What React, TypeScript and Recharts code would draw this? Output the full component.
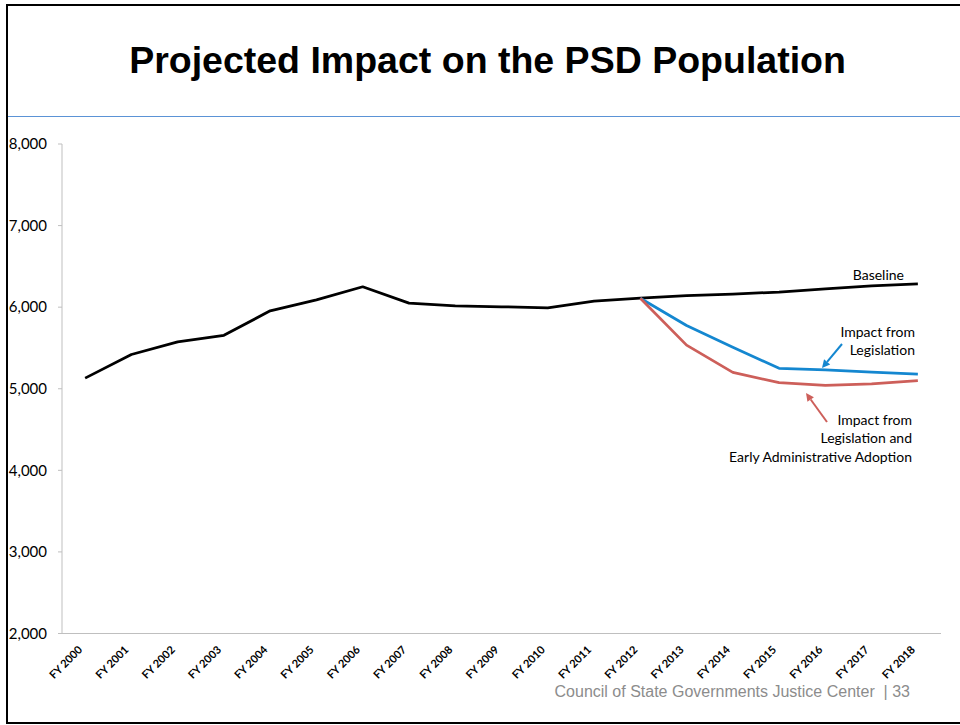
import { LineChart, Line, XAxis, YAxis } from "recharts";

const CATEGORIES = [
  "FY 2000", "FY 2001", "FY 2002", "FY 2003", "FY 2004", "FY 2005", "FY 2006",
  "FY 2007", "FY 2008", "FY 2009", "FY 2010", "FY 2011", "FY 2012", "FY 2013",
  "FY 2014", "FY 2015", "FY 2016", "FY 2017", "FY 2018",
];

const BASELINE = [
  5130, 5420, 5575, 5655, 5955, 6090, 6250, 6050, 6015, 6005,
  5990, 6075, 6110, 6140, 6160, 6185, 6225, 6260, 6285,
];

// projections only start at FY 2012
const LEGISLATION: (number | null)[] = [
  null, null, null, null, null, null, null, null, null, null,
  null, null, 6110, 5775, 5510, 5250, 5230, 5205, 5180,
];

const EARLY_ADOPTION: (number | null)[] = [
  null, null, null, null, null, null, null, null, null, null,
  null, null, 6110, 5535, 5200, 5075, 5040, 5060, 5100,
];

const Y_TICKS = [2000, 3000, 4000, 5000, 6000, 7000, 8000];

const data = CATEGORIES.map((name, i) => ({
  idx: i,
  name,
  baseline: BASELINE[i],
  legislation: LEGISLATION[i],
  early: EARLY_ADOPTION[i],
}));

// tick marks sit between categories, labels sit on them
const boundaryTicks = Array.from({ length: CATEGORIES.length + 1 }, (_, i) => i - 0.5);
const labelTicks = CATEGORIES.map((_, i) => i);

const AXIS_GRAY = "#BFBFBF";
const BLUE = "#1487D0";
const RED = "#CD5F5A";
const LABEL_FONT = "Lato, 'Open Sans', sans-serif";

const CategoryTick = (props: any) => {
  const { x, y, payload } = props;
  const tx = x - 2;
  const ty = y + 13;
  return (
    <text
      x={tx}
      y={ty}
      transform={`rotate(-45 ${tx} ${ty})`}
      textAnchor="end"
      fontSize={11}
      fontWeight={700}
      fontFamily={LABEL_FONT}
      fill="#000"
    >
      {CATEGORIES[payload.value]}
    </text>
  );
};

const Arrow = ({ x1, y1, x2, y2, color }: { x1: number; y1: number; x2: number; y2: number; color: string }) => {
  const ang = Math.atan2(y2 - y1, x2 - x1);
  const len = 8;
  const w = 4;
  const bx = x2 - len * Math.cos(ang);
  const by = y2 - len * Math.sin(ang);
  const px = -Math.sin(ang) * w;
  const py = Math.cos(ang) * w;
  return (
    <g>
      <line x1={x1} y1={y1} x2={bx} y2={by} stroke={color} strokeWidth={2} />
      <polygon points={`${x2},${y2} ${bx + px},${by + py} ${bx - px},${by - py}`} fill={color} />
    </g>
  );
};

export default function App() {
  return (
    <div
      style={{
        position: "absolute",
        left: 0,
        top: 0,
        width: 960,
        height: 725,
        overflow: "hidden",
        background: "#fff",
      }}
    >
      {/* slide frame */}
      <div
        style={{
          position: "absolute",
          left: 6,
          top: 4,
          width: 980,
          height: 716,
          border: "2px solid #000",
        }}
      />
      <div
        style={{
          position: "absolute",
          left: 8,
          top: 116,
          width: 960,
          height: 1,
          background: "#5B93D6",
        }}
      />
      <div
        style={{
          position: "absolute",
          left: 0,
          width: 975,
          top: 38,
          textAlign: "center",
          fontFamily: "'Liberation Sans', Arial, sans-serif",
          fontWeight: 700,
          fontSize: 37.5,
          lineHeight: "44px",
          color: "#000",
        }}
      >
        Projected Impact on the PSD Population
      </div>

      <div style={{ position: "absolute", left: 0, top: 0 }}>
        <LineChart
          width={960}
          height={725}
          data={data}
          margin={{ top: 144, right: 19, left: 12, bottom: 27.5 }}
        >
          <XAxis
            xAxisId="grid"
            dataKey="idx"
            type="number"
            domain={[-0.5, 18.5]}
            ticks={boundaryTicks}
            interval={0}
            tick={false}
            tickSize={4}
            height={4}
            axisLine={{ stroke: AXIS_GRAY }}
            tickLine={{ stroke: AXIS_GRAY }}
          />
          <XAxis
            xAxisId="labels"
            dataKey="idx"
            type="number"
            domain={[-0.5, 18.5]}
            ticks={labelTicks}
            interval={0}
            tick={<CategoryTick />}
            tickSize={0}
            tickMargin={0}
            height={60}
            axisLine={false}
            tickLine={false}
          />
          <YAxis
            domain={[2000, 8000]}
            ticks={Y_TICKS}
            interval={0}
            width={50}
            tickSize={4}
            tickMargin={11}
            tickFormatter={(v: number) => v.toLocaleString("en-US")}
            tick={{ fontSize: 15, fill: "#000", fontFamily: LABEL_FONT }}
            axisLine={{ stroke: AXIS_GRAY }}
            tickLine={{ stroke: AXIS_GRAY }}
          />
          <Line
            xAxisId="grid"
            dataKey="baseline"
            stroke="#000"
            strokeWidth={2.75}
            dot={false}
            strokeLinejoin="round"
            isAnimationActive={false}
          />
          <Line
            xAxisId="grid"
            dataKey="legislation"
            stroke={BLUE}
            strokeWidth={2.75}
            dot={false}
            strokeLinejoin="round"
            isAnimationActive={false}
          />
          <Line
            xAxisId="grid"
            dataKey="early"
            stroke={RED}
            strokeWidth={2.75}
            dot={false}
            strokeLinejoin="round"
            isAnimationActive={false}
          />
        </LineChart>
      </div>

      {/* series annotations */}
      <svg
        width={960}
        height={725}
        style={{ position: "absolute", left: 0, top: 0, pointerEvents: "none" }}
      >
        <g fontFamily={LABEL_FONT} fontSize={14} fill="#000">
          <text x={904} y={280} textAnchor="end">Baseline</text>
          <text x={915} y={337} textAnchor="end">Impact from</text>
          <text x={915} y={355} textAnchor="end">Legislation</text>
          <text x={912} y={425} textAnchor="end">Impact from</text>
          <text x={912} y={443} textAnchor="end">Legislation and</text>
          <text x={912} y={462} textAnchor="end">Early Administrative Adoption</text>
        </g>
        <Arrow x1={842} y1={344} x2={822} y2={368} color={BLUE} />
        <Arrow x1={827} y1={422} x2={806} y2={393} color={RED} />
        <text
          x={910}
          y={697}
          textAnchor="end"
          fontFamily="'Liberation Sans', Arial, sans-serif"
          fontSize={16}
          fill="#8C8C8C"
          xmlSpace="preserve"
        >
          Council of State Governments Justice Center  | 33
        </text>
      </svg>
    </div>
  );
}
